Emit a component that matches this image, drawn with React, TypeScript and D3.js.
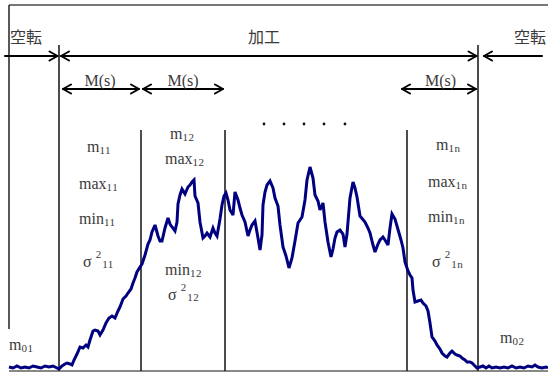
import React from "react";
import * as d3 from "d3";

// Signal: time (t) and amplitude (v)
const signalT = [0,4,8,12,16,20,24,28,32,36,40,44,48,50,53,56,58,61,63,65,68,71,74,77,79,81,84,86,89,91,94,97,100,103,106,109,111,114,117,119,122,124,126,128,131,133,136,139,141,143,146,149,151,153,156,159,161,163,166,168,169,171,173,176,179,181,183,185,186,189,191,194,196,198,201,204,206,208,211,213,215,217,219,221,224,226,229,231,233,236,239,241,243,246,249,251,253,254,256,258,261,264,266,269,271,274,277,280,283,286,289,293,296,298,301,304,306,309,311,314,316,319,322,324,326,328,331,334,336,338,341,344,346,348,351,356,359,361,364,366,369,371,374,376,379,381,383,386,388,390,392,394,396,399,401,403,404,406,409,412,414,417,419,421,423,426,428,431,433,436,438,441,443,446,448,451,453,456,458,461,463,466,468,471,474,477,480,483,487,491,495,499,503,507,511,515,519,523,526,529,533,537,539];
const signalV = [3,2,4,2,3,2,4,3,2,4,3,4,2,1,4,6,7,6,5,10,16,23,22,25,23,30,39,40,39,35,40,47,52,54,52,59,63,71,74,77,81,87,92,98,103,106,115,126,130,138,145,134,129,129,142,152,146,143,139,148,166,175,181,176,183,185,188,190,174,167,148,132,134,137,133,142,137,134,151,165,174,177,170,160,155,178,170,162,155,148,134,140,145,149,132,120,135,165,178,185,189,182,172,164,145,123,114,102,112,129,147,153,170,190,203,192,175,169,160,167,148,128,113,121,132,138,140,136,123,136,172,188,182,173,154,148,142,137,125,118,126,130,133,130,125,142,156,151,144,137,130,122,108,99,95,92,80,68,69,70,67,64,59,47,33,29,25,21,17,14,13,17,19,16,15,14,12,10,8,8,7,4,2,3,4,2,4,2,3,2,3,2,4,2,3,2,4,3,5,3,2,3,2];

// Phase boundaries (time)
const boundaries = [50, 132, 216, 398, 469];
const tallBoundaries = [50, 469];

const phaseLabels = ["空転", "加工", "空転"];
const windowLabel = "M(s)";

const W = 548;
const H = 377;

const x = d3.scaleLinear().domain([0, 539]).range([9, 548]);
const y = d3.scaleLinear().domain([0, 200]).range([370, 170]);

const TEXT = "#3a3a3a";
const SERIF = "'Liberation Serif', 'DejaVu Serif', serif";
const CJK = "'Noto Sans CJK JP', sans-serif";

function Arrow({ x1, x2, yy, start, end, sw = 2 }: { x1: number; x2: number; yy: number; start: boolean; end: boolean; sw?: number }) {
  const hl = 8, hh = 4.5;
  return (
    <g stroke="#000" strokeWidth={sw} fill="none" strokeLinecap="round" strokeLinejoin="round">
      <line x1={x1} y1={yy} x2={x2} y2={yy} />
      {start && <polyline points={`${x1 + hl},${yy - hh} ${x1},${yy} ${x1 + hl},${yy + hh}`} />}
      {end && <polyline points={`${x2 - hl},${yy - hh} ${x2},${yy} ${x2 - hl},${yy + hh}`} />}
    </g>
  );
}

function Sub({ x0, y0, base, sub }: { x0: number; y0: number; base: string; sub: string }) {
  return (
    <text x={x0} y={y0} fontFamily={SERIF} fontSize={16} fill={TEXT}>
      <tspan>{base}</tspan>
      <tspan dy={2} fontSize={11} letterSpacing={0.5}>{sub}</tspan>
    </text>
  );
}

function Sigma({ x0, y0, sub }: { x0: number; y0: number; sub: string }) {
  return (
    <text x={x0} y={y0} fontFamily={SERIF} fontSize={16} fill={TEXT}>
      <tspan>σ</tspan>
      <tspan dx={4} dy={-9} fontSize={11}>2</tspan>
      <tspan dx={1} dy={10} fontSize={11} letterSpacing={0.5}>{sub}</tspan>
    </text>
  );
}

export default function App() {
  const pts = signalT.map((t, i) => [t, signalV[i]] as [number, number]);
  const line = d3.line<[number, number]>().x((d) => x(d[0])).y((d) => y(d[1])).curve(d3.curveLinear);
  const bx = boundaries.map((b) => x(b));
  const dots = [264, 284, 304, 324, 345];
  return (
    <svg width={W} height={H} style={{ position: "fixed", left: 0, top: 0, background: "#fff" }}>
      <rect width={W} height={H} fill="#fff" />
      {/* frame */}
      <line x1={9} y1={5} x2={548} y2={5} stroke="#777" strokeWidth={2} />
      <line x1={9} y1={5} x2={9} y2={329} stroke="#222" strokeWidth={1.5} />
      <line x1={9} y1={371} x2={548} y2={371} stroke="#888" strokeWidth={2} />

      {/* phase boundaries */}
      {boundaries.map((b, i) => (
        <line key={i} x1={x(b)} x2={x(b)} y1={tallBoundaries.includes(b) ? 45 : 130} y2={371} stroke="#111" strokeWidth={1.5} />
      ))}

      {/* signal */}
      <path d={line(pts) || ""} fill="none" stroke="#000080" strokeWidth={3} strokeLinejoin="miter" strokeMiterlimit={3} />

      {/* phase arrows */}
      <Arrow x1={5} x2={bx[0] - 1.5} yy={56} start={false} end={true} />
      <Arrow x1={bx[0] + 2} x2={bx[4] - 1.5} yy={56} start={true} end={true} />
      <Arrow x1={bx[4] + 6} x2={542} yy={56} start={true} end={false} />
      <text x={26} y={43} textAnchor="middle" fontFamily={CJK} fontSize={16} fill={TEXT}>{phaseLabels[0]}</text>
      <text x={264} y={43} textAnchor="middle" fontFamily={CJK} fontSize={16} fill={TEXT}>{phaseLabels[1]}</text>
      <text x={530} y={43} textAnchor="middle" fontFamily={CJK} fontSize={16} fill={TEXT}>{phaseLabels[2]}</text>

      {/* window arrows */}
      <Arrow x1={bx[0] + 4} x2={bx[1] - 2} yy={89} start={true} end={true} />
      <Arrow x1={bx[1] + 2} x2={bx[2] - 2} yy={89} start={true} end={true} />
      <Arrow x1={bx[3] - 5} x2={bx[4] - 2} yy={89} start={true} end={true} />
      <text x={(bx[0] + bx[1]) / 2} y={86} textAnchor="middle" fontFamily={SERIF} fontSize={16} fill={TEXT}>{windowLabel}</text>
      <text x={(bx[1] + bx[2]) / 2} y={86} textAnchor="middle" fontFamily={SERIF} fontSize={16} fill={TEXT}>{windowLabel}</text>
      <text x={(bx[3] + bx[4]) / 2 - 2} y={86} textAnchor="middle" fontFamily={SERIF} fontSize={16} fill={TEXT}>{windowLabel}</text>

      {dots.map((d, i) => <circle key={i} cx={d} cy={124} r={1.4} fill="#111" />)}

      {/* window 1 */}
      <Sub x0={87} y0={152} base="m" sub="11" />
      <Sub x0={79} y0={189} base="max" sub="11" />
      <Sub x0={79} y0={224} base="min" sub="11" />
      <Sigma x0={83} y0={267} sub="11" />
      {/* window 2 */}
      <Sub x0={170} y0={139} base="m" sub="12" />
      <Sub x0={165} y0={164} base="max" sub="12" />
      <Sub x0={165} y0={275} base="min" sub="12" />
      <Sigma x0={168} y0={300} sub="12" />
      {/* window n */}
      <Sub x0={436} y0={150} base="m" sub="1n" />
      <Sub x0={428} y0={187} base="max" sub="1n" />
      <Sub x0={428} y0={222} base="min" sub="1n" />
      <Sigma x0={432} y0={267} sub="1n" />
      {/* idle */}
      <Sub x0={9} y0={350} base="m" sub="01" />
      <Sub x0={500} y0={343} base="m" sub="02" />
    </svg>
  );
}
